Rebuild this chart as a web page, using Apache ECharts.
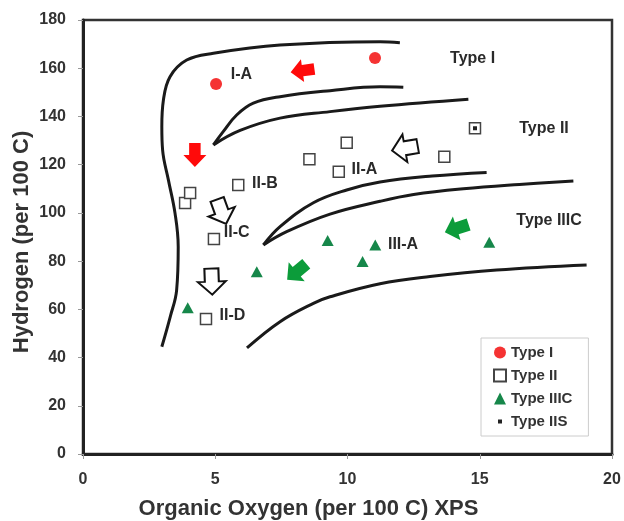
<!DOCTYPE html>
<html>
<head>
<meta charset="utf-8">
<script src="https://cdn.jsdelivr.net/npm/echarts@6/dist/echarts.min.js"></script>
<style>html,body{margin:0;padding:0;background:#fff}#c{width:624px;height:521px}</style>
</head>
<body>
<div id="c"></div>
<script>
// ---- data ----
const typeI = [[5.03,153.5],[11.04,164.2]];
const typeII = [[3.86,104.1],[4.05,108.3],[5.87,111.6],[8.56,122.2],[9.67,117.1],[9.97,129.1],[13.66,123.3],[4.95,89.2],[4.65,56.0],[14.82,135.1]];
const typeIIIC = [[3.96,60.7],[6.57,75.6],[9.25,88.5],[10.57,79.8],[11.05,86.7],[15.36,87.8]];
const typeIIS = [[14.82,135.1]];

// boundary curves
const curveOuter = [[2.98,44.5],[3.30,57],[3.54,68],[3.60,86],[3.48,99.8],[3.23,113.6],[3.01,126],[2.98,135.7],[3.04,146.8],[3.29,156.5],[3.92,163.4],[4.93,166.2],[7.45,169.6],[11.23,171],[11.98,170.6]];
const curveIUpper = [[4.93,128.2],[5.30,133.7],[5.81,140.6],[6.44,145.5],[7.45,148.2],[9.34,150.7],[11.23,152.3],[12.11,152.1]];
const curveILower = [[4.93,128.2],[5.94,134.2],[7.45,139.3],[9.34,142.0],[11.23,144.2],[14.57,147.1]];
const curveIIUpper = [[6.82,86.7],[7.45,94.3],[8.71,104.2],[9.97,109.5],[11.23,112.8],[13.2,115.3],[15.26,116.8]];
const curveIILower = [[6.82,86.7],[7.70,92.2],[9.34,99.5],[11.23,104.8],[12.5,107.6],[14.38,110.0],[16.5,111.8],[18.54,113.2]];
const curveIIIC = [[6.20,44],[7.45,54.9],[8.71,62.5],[9.34,65.2],[11.23,70.6],[13.12,73.6],[15.64,76.3],[19.04,78.4]];

// arrows: [x, y, rotation deg]
const redArrows = [[8.30,159.0,8],[4.23,124.0,90]];
const openArrows = [[12.17,126.8,10],[5.24,100.5,110],[4.87,71.5,92]];
const greenArrows = [[8.08,75.6,40],[14.13,93.6,18]];

// annotations
const annotText = ['I-A','Type I','Type II','II-A','II-B','II-C','II-D','Type IIIC','III-A'];
const annotPos = [[5.99,157.2],[14.73,163.8],[17.43,134.8],[10.64,117.8],[6.88,112],[5.81,91.9],[5.65,57.2],[17.62,96.6],[12.1,86.9]];

const legendNames = ['Type I','Type II','Type IIIC','Type IIS'];

// ---- chart ----
const arrowPath = 'path://M0,10 L11,0 L11,5 L22,5 L22,15 L11,15 L11,20 Z';
const font = 'Liberation Sans, Arial, sans-serif';
const chart = echarts.init(document.getElementById('c'));
function curve(d){
  return {type:'line', data:d, smooth:0.4, showSymbol:false, symbol:'none', silent:true, z:1,
    lineStyle:{color:'#1a1a1a', width:3}};
}
const option = {
  animation:false,
  backgroundColor:'#fff',
  grid:{left:83,right:12,top:20,bottom:67,show:true,borderColor:'#333',borderWidth:2.5,outerBoundsMode:'none',containLabel:false},
  xAxis:{type:'value',min:0,max:20,interval:5,
    name:'Organic Oxygen (per 100 C) XPS',nameLocation:'middle',nameGap:44,nameMoveOverlap:false,
    nameTextStyle:{fontFamily:font,fontWeight:'bold',fontSize:22,color:'#333',padding:[0,78,0,0]},
    axisLine:{lineStyle:{color:'#222',width:3}},
    axisTick:{show:true,length:5,lineStyle:{color:'#999'}},
    axisLabel:{margin:18,fontFamily:font,fontWeight:'bold',fontSize:16,color:'#333'},
    splitLine:{show:false}},
  yAxis:{type:'value',min:0,max:180,interval:20,
    name:'Hydrogen (per 100 C)',nameLocation:'middle',nameGap:50,nameMoveOverlap:false,
    nameTextStyle:{fontFamily:font,fontWeight:'bold',fontSize:22,color:'#333',padding:[0,10,0,0]},
    axisLine:{show:true,lineStyle:{color:'#222',width:3}},
    axisTick:{show:true,length:5,lineStyle:{color:'#999'}},
    axisLabel:{margin:17,fontFamily:font,fontWeight:'bold',fontSize:16,color:'#333'},
    splitLine:{show:false}},
  legend:{orient:'vertical',left:481,top:338,padding:[7,16,7,12],itemGap:8,itemWidth:12,itemHeight:12,
    borderColor:'#ccc',borderWidth:1,backgroundColor:'#fff',
    textStyle:{fontFamily:font,fontWeight:'bold',fontSize:15,color:'#333'},
    data:[{name:legendNames[0],icon:'circle'},{name:legendNames[1],icon:'rect'},{name:legendNames[2],icon:'triangle'},
      {name:legendNames[3],icon:'path://M0,0 M12,12 M4,4 L8,4 L8,8 L4,8 Z'}]},
  series:[
    curve(curveOuter),curve(curveIUpper),curve(curveILower),curve(curveIIUpper),curve(curveIILower),curve(curveIIIC),
    {name:legendNames[0],type:'scatter',data:typeI,symbol:'circle',symbolSize:12,z:5,
      itemStyle:{color:'#f53333',opacity:1}},
    {name:legendNames[1],type:'scatter',data:typeII,symbol:'rect',symbolSize:11,z:5,
      itemStyle:{color:'#fff',borderColor:'#444',borderWidth:1.5,opacity:1}},
    {name:legendNames[2],type:'scatter',data:typeIIIC,symbol:'triangle',symbolSize:[12,11],z:5,
      itemStyle:{color:'#16874a',opacity:1}},
    {name:legendNames[3],type:'scatter',data:typeIIS,symbol:'rect',symbolSize:4,z:6,
      itemStyle:{color:'#222',opacity:1}},
    {type:'scatter',data:redArrows,symbol:arrowPath,symbolSize:[24,23],symbolRotate:(v)=>v[2],z:4,silent:true,
      itemStyle:{color:'#ff0a0a',opacity:1}},
    {type:'scatter',data:openArrows,symbol:arrowPath,symbolSize:[26,28],symbolRotate:(v)=>v[2],z:4,silent:true,
      itemStyle:{color:'#fff',borderColor:'#111',borderWidth:2,opacity:1}},
    {type:'scatter',data:greenArrows,symbol:arrowPath,symbolSize:[25,25],symbolRotate:(v)=>v[2],z:4,silent:true,
      itemStyle:{color:'#0c9c3a',opacity:1}},
    {type:'scatter',symbolSize:0,silent:true,z:7,itemStyle:{opacity:1},
      data:annotPos.map((p,i)=>({value:p,name:annotText[i]})),
      label:{show:true,position:'inside',formatter:(p)=>p.name,fontFamily:font,fontWeight:'bold',fontSize:16,color:'#2a2a2a'}}
  ]
};
chart.setOption(option);
</script>
</body>
</html>
